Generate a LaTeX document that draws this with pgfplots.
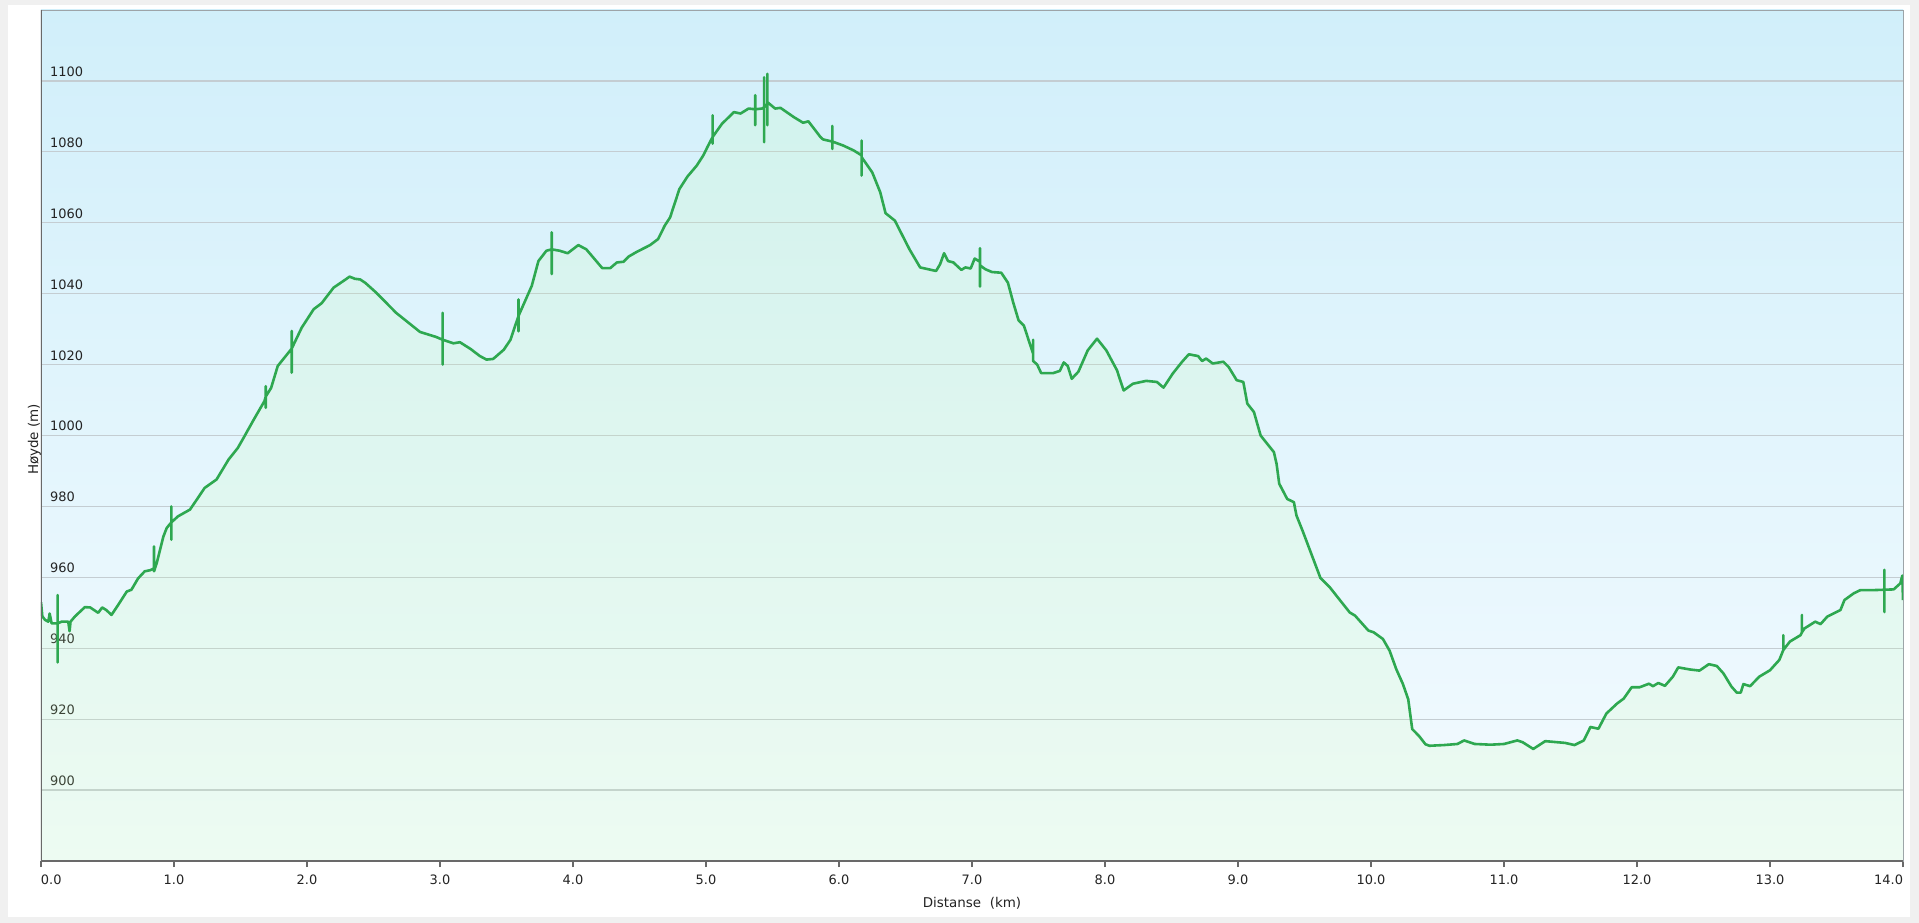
\documentclass[border=0pt]{standalone}
\usepackage{fontspec}
\setmainfont{DejaVu Sans}
\usepackage{pgfplots}
\usepackage{pgfplotstable}
\pgfplotsset{compat=1.18}

\definecolor{profile}{RGB}{46,168,80}
\definecolor{bgTop}{RGB}{209,239,250}
\definecolor{bgBot}{RGB}{244,251,255}
\definecolor{areafill}{RGB}{200,255,170}
\definecolor{gridc}{RGB}{196,205,210}
\definecolor{frame}{RGB}{105,105,105}
\definecolor{panel}{RGB}{240,240,240}
\definecolor{txt}{RGB}{35,35,35}

% distance (km), height (m); repeated x = GPS spike
\pgfplotstableread{
x y
0.000 953
0.010 949
0.030 948
0.055 947.5
0.065 949.8
0.080 947
0.110 947
0.125 947
0.125 955
0.125 936
0.125 947
0.155 947.5
0.205 947.5
0.215 944.8
0.222 947.5
0.256 949
0.330 951.6
0.370 951.5
0.430 950
0.460 951.5
0.490 950.8
0.530 949.4
0.580 952.2
0.645 956
0.680 956.5
0.730 959.7
0.780 961.7
0.820 962
0.850 962.5
0.850 968.7
0.850 961.7
0.870 964
0.920 971.5
0.945 973.9
0.980 975.5
0.980 980
0.980 970.6
0.980 975.5
1.030 977.2
1.120 979.1
1.180 982.4
1.230 985.2
1.320 987.6
1.410 993.2
1.480 996.5
1.530 999.8
1.600 1004.5
1.680 1009.7
1.690 1011
1.690 1013.9
1.690 1007.8
1.690 1011
1.730 1013.4
1.780 1019.6
1.885 1024.5
1.885 1029.5
1.885 1017.7
1.885 1024.5
1.960 1030.4
2.050 1035.6
2.110 1037.3
2.200 1041.7
2.290 1044
2.320 1044.8
2.360 1044.2
2.400 1044
2.440 1043
2.520 1040.3
2.670 1034.6
2.850 1029.2
2.970 1027.8
3.020 1027
3.020 1034.6
3.020 1020
3.020 1027
3.100 1026
3.150 1026.3
3.230 1024.4
3.300 1022.4
3.350 1021.4
3.400 1021.6
3.480 1024.2
3.530 1027
3.590 1033.7
3.590 1038.4
3.590 1029.4
3.590 1033.7
3.690 1042.2
3.740 1049.2
3.800 1052.1
3.840 1052.5
3.840 1057.3
3.840 1045.5
3.840 1052.5
3.900 1052.1
3.960 1051.4
4.040 1053.7
4.100 1052.5
4.220 1047.2
4.280 1047.2
4.330 1048.8
4.380 1049
4.420 1050.5
4.480 1051.8
4.580 1053.7
4.640 1055.4
4.690 1059.2
4.730 1061.5
4.800 1069.5
4.860 1073
4.930 1076.1
4.980 1079
5.010 1081.3
5.050 1084.2
5.050 1090.3
5.050 1082.3
5.050 1084.2
5.120 1087.9
5.210 1091.2
5.260 1090.8
5.320 1092.2
5.370 1092
5.370 1096
5.370 1087.5
5.370 1092
5.420 1092.2
5.437 1092.5
5.437 1101
5.437 1082.7
5.437 1092.5
5.462 1093.5
5.462 1102
5.462 1087.5
5.462 1094
5.520 1092.2
5.560 1092.4
5.660 1089.8
5.730 1088.2
5.770 1088.6
5.860 1084.2
5.880 1083.5
5.950 1082.9
5.950 1087.3
5.950 1080.8
5.950 1082.9
6.030 1081.8
6.110 1080.4
6.170 1079
6.170 1083.2
6.170 1073.3
6.170 1078.5
6.250 1074.2
6.310 1068.6
6.350 1062.7
6.420 1060.6
6.530 1052.5
6.610 1047.4
6.730 1046.4
6.760 1048.3
6.790 1051.4
6.820 1049.2
6.860 1048.8
6.920 1046.7
6.950 1047.4
6.990 1047.1
7.020 1049.9
7.060 1049
7.060 1052.8
7.060 1042
7.060 1048
7.100 1046.9
7.150 1046.1
7.220 1045.9
7.270 1043.1
7.310 1037.5
7.350 1032.5
7.390 1031
7.460 1023
7.460 1027
7.460 1021
7.490 1020
7.520 1017.6
7.610 1017.6
7.660 1018.2
7.690 1020.6
7.720 1019.6
7.750 1016
7.800 1018
7.870 1024
7.940 1027.3
8.010 1024
8.090 1018.4
8.140 1012.7
8.210 1014.6
8.310 1015.4
8.390 1015.1
8.440 1013.5
8.510 1017.5
8.580 1020.8
8.630 1022.9
8.700 1022.4
8.730 1021
8.760 1021.7
8.810 1020.3
8.890 1020.8
8.930 1019.3
8.990 1015.6
9.040 1015.1
9.070 1009
9.120 1006.6
9.170 1000
9.270 995.3
9.290 992
9.310 986.4
9.370 982.1
9.420 981.2
9.440 977.4
9.490 972.7
9.620 959.8
9.690 957.2
9.770 953.4
9.840 950.1
9.880 949.2
9.980 945
10.020 944.5
10.090 942.6
10.140 939.3
10.190 934.1
10.240 929.9
10.280 925.6
10.310 917.2
10.360 915.3
10.410 912.9
10.440 912.5
10.550 912.7
10.650 913
10.700 914
10.780 913
10.900 912.8
11.000 913
11.100 914
11.140 913.5
11.220 911.6
11.310 913.8
11.460 913.3
11.530 912.7
11.600 914
11.650 917.8
11.710 917.3
11.770 921.6
11.850 924.4
11.900 925.8
11.960 929
12.020 929
12.090 930
12.120 929.3
12.160 930.2
12.210 929.4
12.270 932
12.310 934.6
12.400 934
12.470 933.7
12.540 935.5
12.600 935
12.650 932.9
12.710 929.2
12.750 927.5
12.780 927.5
12.800 929.9
12.850 929.3
12.920 932
13.000 933.8
13.070 936.7
13.100 939.5
13.100 943.7
13.100 939.5
13.150 941.9
13.230 943.7
13.240 944.5
13.240 949.4
13.240 944.5
13.260 945.6
13.340 947.5
13.380 946.8
13.430 948.9
13.530 950.8
13.560 953.6
13.630 955.5
13.680 956.4
13.780 956.4
13.860 956.5
13.860 962.1
13.860 950.2
13.860 956.5
13.930 956.6
13.980 958.3
13.995 960.5
14.000 953.6
}\profiletable

\begin{document}
\begin{tikzpicture}
\fill[panel] (-41bp,-62bp) rectangle (1878bp,861bp);
\fill[white] (-33bp,-56bp) rectangle (1869bp,856bp);
\path[use as bounding box] (-41bp,-62bp) rectangle (1878bp,861bp);
\begin{axis}[
    at={(0,0)}, anchor=south west,
    scale only axis,
    width=1862bp, height=851bp,
    xmin=0, xmax=14, ymin=880, ymax=1120,
    xtick={0,1,...,14},
    ytick={900,920,...,1100},
    xtick pos=bottom,
    ymajorgrids,
    grid style={draw=gridc, line width=1.3bp},
    axis background/.style={shade, top color=bgTop, bottom color=bgBot},
    axis line style={draw=gridc!80!black, line width=0.8bp},
    tick align=outside,
    major tick length=6bp,
    xtick style={draw=frame, line width=1.2bp},
    ytick style={draw=none},
    /pgf/number format/assume math mode=true,
    ticklabel style={font=\fontsize{13}{15}\selectfont, text=txt},
    xticklabel={\ifnum\ticknum=0 \rlap{\pgfmathprintnumber{\tick}}\else
        \ifnum\ticknum=14 \llap{\pgfmathprintnumber{\tick}}\else
        \pgfmathprintnumber{\tick}\fi\fi},
    xticklabel style={/pgf/number format/.cd, fixed, fixed zerofill, precision=1,
        /tikz/.cd, anchor=base, inner sep=0pt, yshift=-17bp},
    yticklabel style={/pgf/number format/.cd, fixed, 1000 sep={},
        /tikz/.cd, anchor=base west, inner sep=0pt, xshift=15bp, yshift=4.5bp},
    xlabel={Distanse\ \ (km)},
    ylabel={Høyde (m)},
    label style={font=\fontsize{13.5}{15}\selectfont, text=txt},
    xlabel style={at={(axis description cs:0.5,0)}, anchor=base, inner sep=0pt, yshift=-46bp},
    ylabel style={at={(axis description cs:0,0.5)}, anchor=south, inner sep=0pt, xshift=-4bp},
]
\addplot[draw=none, fill=areafill, fill opacity=0.15] table[x=x, y=y] {\profiletable} \closedcycle;
\addplot[profile, line width=2.6bp, line join=round] table[x=x, y=y] {\profiletable};
\draw[frame, line width=2bp] (rel axis cs:0,1) -- (rel axis cs:0,0) -- (rel axis cs:1,0);
\end{axis}
\end{tikzpicture}
\end{document}
